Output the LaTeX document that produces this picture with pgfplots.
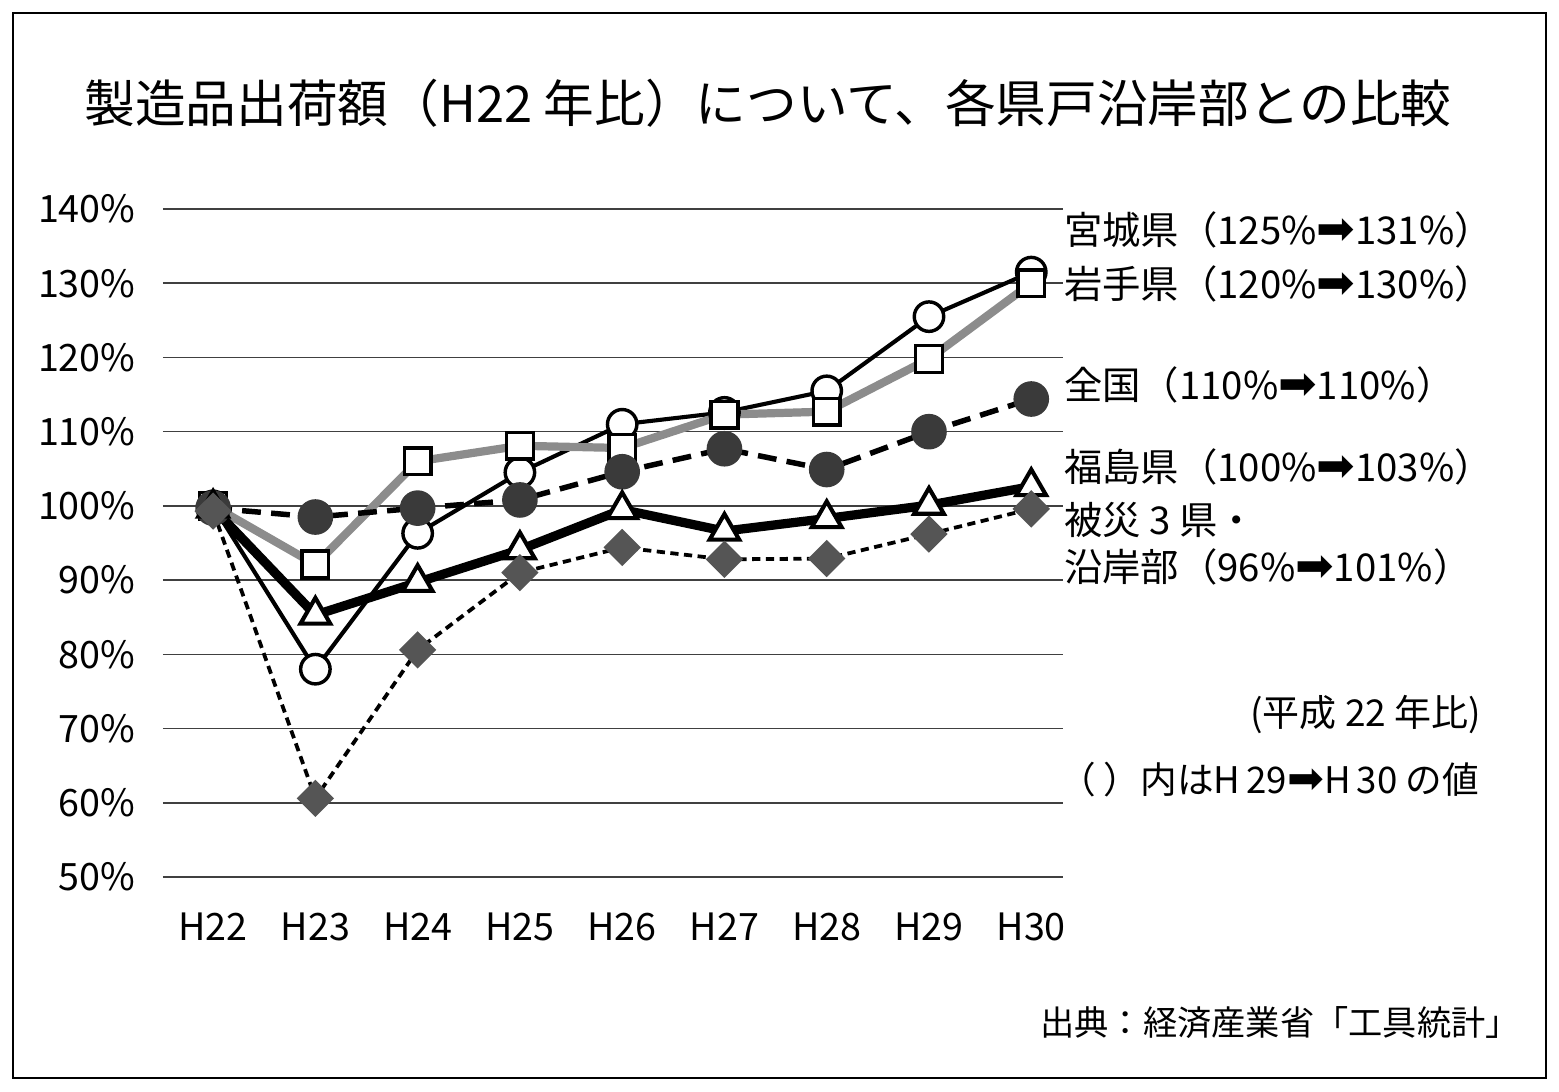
\documentclass[border=0pt]{standalone}
\usepackage{pgfplots}
\pgfplotsset{compat=1.18}
\usepackage{fontspec}
\setmainfont{Noto Sans CJK JP}
\newfontfamily\dejavu{DejaVu Sans}
\newcommand{\arr}{{\dejavu\scalebox{1.2}{➡}}}
\definecolor{iwate}{RGB}{140,140,140}
\definecolor{zenkoku}{RGB}{58,58,58}
\definecolor{hisai}{RGB}{85,85,85}
\begin{document}
\begin{tikzpicture}
\begin{scope}[x=0.292pt,y=-0.292pt]
\path (0,0) rectangle (1559,1092);
\draw[line width=0.7pt] (13,13) rectangle (1546,1078);
\node[font=\fontsize{14.8}{18}\selectfont] at (768,103) {製造品出荷額（H22 年比）について、各県戸沿岸部との比較};
\begin{scope}[font=\fontsize{11.2}{13}\selectfont]
\node[anchor=west] at (1052,230) {宮城県（125\%\arr131\%）};
\node[anchor=west] at (1052,284) {岩手県（120\%\arr130\%）};
\node[anchor=west] at (1052,385) {全国（110\%\arr110\%）};
\node[anchor=west] at (1052,467) {福島県（100\%\arr103\%）};
\node[anchor=west] at (1052,520) {被災 3 県・};
\node[anchor=west] at (1052,567) {沿岸部（96\%\arr101\%）};
\node[anchor=east,font=\fontsize{10.8}{13}\selectfont] at (1493,715) {(平成 22 年比)};
\node[anchor=west,font=\fontsize{10.7}{13}\selectfont] at (1047,780) {（ ）内はH\,29\arr H\,30 の値};
\end{scope}
\node[anchor=east,font=\fontsize{10}{12}\selectfont] at (1532,1023) {出典：経済産業省「工具統計」};
\end{scope}
\begin{axis}[
  at={(47.596pt,-256.084pt)}, anchor=south west,
  scale only axis, width=262.8pt, height=195.06pt,
  xmin=-0.49, xmax=8.31, ymin=50, ymax=140,
  axis line style={draw=none},
  major tick length=0pt,
  xtick={0,...,8},
  xticklabels={H22,H23,H24,H25,H26,H27,H28,H29,H30},
  ytick={50,60,...,140},
  yticklabels={50\%,60\%,70\%,80\%,90\%,100\%,110\%,120\%,130\%,140\%},
  ymajorgrids,
  major grid style={line width=0.45pt, color=black!75},
  tick label style={font=\fontsize{11}{13}\selectfont},
  yticklabel style={xshift=-4.5pt},
  xticklabel style={yshift=-7pt},
  clip=false,
]
% 宮城県
\addplot[black, line width=1.2pt, mark=*, mark size=4.3pt,
  mark options={fill=white, draw=black, line width=1pt, solid}]
  coordinates {(0,100) (1,78.0) (2,96.3) (3,104.5) (4,111.0) (5,112.6) (6,115.5) (7,125.5) (8,131.5)};
% 岩手県
\addplot[iwate, line width=2.4pt, mark=square*, mark size=3.9pt,
  mark options={fill=white, draw=black, line width=1pt, solid}]
  coordinates {(0,100) (1,92.1) (2,106.0) (3,108.1) (4,107.8) (5,112.3) (6,112.7) (7,119.8) (8,130.0)};
% 全国
\addplot[black, line width=1.6pt, dash pattern=on 5.5pt off 3pt, mark=*, mark size=4.4pt,
  mark options={fill=zenkoku, draw=zenkoku, solid}]
  coordinates {(0,99.7) (1,98.5) (2,99.7) (3,100.8) (4,104.6) (5,107.7) (6,104.9) (7,110.0) (8,114.4)};
% 福島県
\addplot[black, line width=2.7pt, mark=triangle*, mark size=5pt,
  mark options={fill=white, draw=black, line width=1.2pt, solid}]
  coordinates {(0,99.7) (1,85.3) (2,89.7) (3,94.1) (4,99.5) (5,96.6) (6,98.3) (7,100.1) (8,102.6)};
% 被災3県・沿岸部
\addplot[black, line width=1.1pt, dash pattern=on 2.4pt off 1.6pt, mark=square*, mark size=3.3pt,
  mark options={fill=hisai, draw=hisai, solid, rotate=45}]
  coordinates {(0,99.3) (1,60.6) (2,80.6) (3,91.0) (4,94.4) (5,92.8) (6,92.9) (7,96.2) (8,99.6)};
\end{axis}
\end{tikzpicture}
\end{document}
